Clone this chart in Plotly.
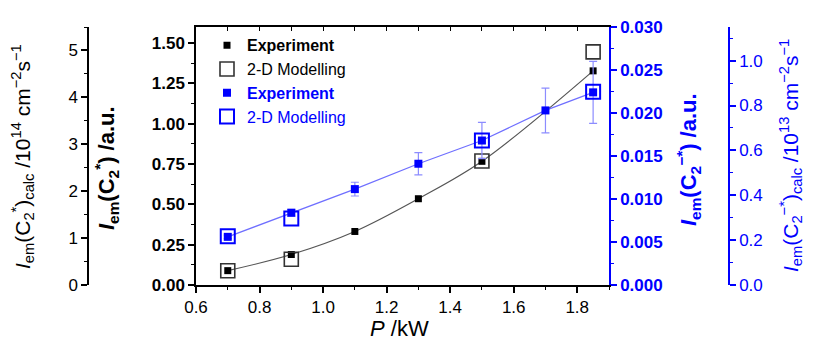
import plotly.graph_objects as go

# ---- data ----
power_exp_c2 = [0.7, 0.9, 1.1, 1.3, 1.5, 1.85]
iem_exp_c2 = [0.089, 0.189, 0.332, 0.535, 0.767, 1.328]

power_mod_c2 = [0.7, 0.9, 1.5, 1.85]
iem_mod_c2 = [0.305, 0.55, 2.645, 4.97]

power_exp_c2m = [0.7, 0.9, 1.1, 1.3, 1.5, 1.7, 1.85]
iem_exp_c2m = [0.0056, 0.0084, 0.01115, 0.0141, 0.0168, 0.0203, 0.0224]
iem_err_c2m = [0.0002, 0.0004, 0.0008, 0.0013, 0.0021, 0.0026, 0.0036]

power_mod_c2m = [0.7, 0.9, 1.5, 1.85]
iem_mod_c2m = [0.217, 0.296, 0.644, 0.861]

FONT = "Liberation Sans"
BLUE = "#0000ff"
W, H = 813, 340

fig = go.Figure()

# lines
fig.add_trace(go.Scatter(x=power_exp_c2, y=iem_exp_c2, mode="lines",
                         line=dict(color="#555555", width=1.2, shape="spline"),
                         xaxis="x", yaxis="y", showlegend=False, hoverinfo="skip"))
fig.add_trace(go.Scatter(x=power_exp_c2m, y=iem_exp_c2m, mode="lines",
                         line=dict(color="#6f6fff", width=1.2),
                         xaxis="x", yaxis="y3", showlegend=False, hoverinfo="skip"))

# modelling (open squares)
fig.add_trace(go.Scatter(x=power_mod_c2, y=iem_mod_c2, mode="markers",
                         name="2-D Modelling", legendrank=2,
                         marker=dict(symbol="square-open", size=14, color="#333333",
                                     line=dict(width=1.6, color="#333333")),
                         xaxis="x", yaxis="y2"))
fig.add_trace(go.Scatter(x=power_mod_c2m, y=iem_mod_c2m, mode="markers",
                         name="<span style='color:#0000ff'>2-D Modelling</span>", legendrank=4,
                         marker=dict(symbol="square-open", size=14, color=BLUE,
                                     line=dict(width=2, color=BLUE)),
                         xaxis="x", yaxis="y4"))

# experiments (filled squares)
fig.add_trace(go.Scatter(x=power_exp_c2, y=iem_exp_c2, mode="markers",
                         name="<b>Experiment</b>", legendrank=1,
                         marker=dict(symbol="square", size=7, color="black"),
                         xaxis="x", yaxis="y"))
fig.add_trace(go.Scatter(x=power_exp_c2m, y=iem_exp_c2m, mode="markers",
                         name="<b><span style='color:#0000ff'>Experiment</span></b>", legendrank=3,
                         marker=dict(symbol="square", size=8, color=BLUE),
                         error_y=dict(type="data", array=iem_err_c2m, color="#8c8cff",
                                      thickness=1.2, width=4),
                         xaxis="x", yaxis="y3"))

# dummy for top axis
fig.add_trace(go.Scatter(x=[], y=[], xaxis="x2", yaxis="y", showlegend=False, hoverinfo="skip"))

x0, x1 = 188 / W, 601 / W

fig.update_layout(
    template="none",
    width=W, height=H,
    margin=dict(l=0, r=0, t=19, b=63, autoexpand=False),
    paper_bgcolor="white", plot_bgcolor="white",
    font=dict(family=FONT, size=17, color="black"),
    showlegend=True,
    legend=dict(x=199 / W, y=0.995, xanchor="left", yanchor="top",
                bgcolor="rgba(0,0,0,0)", borderwidth=0, font=dict(size=16, family=FONT),
                tracegroupgap=0, itemwidth=30),
    xaxis=dict(domain=[x0, x1], range=[0.6, 1.9], dtick=0.2, tick0=0.6,
               tickformat=".1f", showgrid=False, zeroline=False, automargin=False,
               showline=True, linecolor="black", linewidth=1.5,
               ticks="outside", ticklen=6, tickwidth=1.5, tickcolor="black",
               minor=dict(dtick=0.1, ticks="outside", ticklen=3, tickcolor="black", tickwidth=1.2),
               tickfont=dict(size=17, family=FONT), anchor="y"),
    xaxis2=dict(overlaying="x", matches="x", side="top", anchor="y", automargin=False,
                range=[0.6, 1.9], dtick=0.1, tick0=0.6, showticklabels=False,
                showgrid=False, zeroline=False, showline=True, linecolor="black", linewidth=1.5,
                ticks="inside", ticklen=4, tickwidth=1.3, tickcolor="black"),
    yaxis=dict(range=[0, 1.6], dtick=0.25, tick0=0, tickformat=".2f", automargin=False,
               showgrid=False, zeroline=False, showline=True, linecolor="black", linewidth=1.5,
               ticks="outside", ticklen=6, tickwidth=1.5, tickcolor="black",
               minor=dict(dtick=0.125, ticks="outside", ticklen=3, tickcolor="black", tickwidth=1.2),
               tickfont=dict(size=17, family=FONT, weight="bold"), anchor="x", side="left"),
    yaxis2=dict(overlaying="y", anchor="free", position=80 / W, side="left", automargin=False,
                range=[0, 5.5], dtick=1, tick0=0,
                showgrid=False, zeroline=False, showline=True, linecolor="black", linewidth=1.5,
                ticks="outside", ticklen=6, tickwidth=1.5, tickcolor="black",
                minor=dict(dtick=0.5, ticks="outside", ticklen=3, tickcolor="black", tickwidth=1.2),
                tickfont=dict(size=17, family=FONT)),
    yaxis3=dict(overlaying="y", anchor="x", side="right", automargin=False,
                range=[0, 0.030], dtick=0.005, tick0=0, tickformat=".3f",
                showgrid=False, zeroline=False, showline=True, linecolor=BLUE, linewidth=1.5,
                ticks="outside", ticklen=6, tickwidth=1.5, tickcolor=BLUE,
                minor=dict(dtick=0.0025, ticks="outside", ticklen=3, tickcolor=BLUE, tickwidth=1.2),
                tickfont=dict(size=17, family=FONT, weight="bold", color=BLUE)),
    yaxis4=dict(overlaying="y", anchor="free", position=721 / W, side="right", automargin=False,
                range=[0, 1.15], dtick=0.2, tick0=0, tickformat=".1f",
                showgrid=False, zeroline=False, showline=True, linecolor=BLUE, linewidth=1.5,
                ticks="outside", ticklen=6, tickwidth=1.5, tickcolor=BLUE,
                minor=dict(dtick=0.1, ticks="outside", ticklen=3, tickcolor=BLUE, tickwidth=1.2),
                tickfont=dict(size=17, family=FONT, color=BLUE)),
)

def py(p):
    return 1 - (p - 19) / (277 - 19)

annots = [
    dict(text="<i>I</i><sub>em</sub>(C<sub>2</sub><sup>*</sup>)<sub>calc</sub> /10<sup>14</sup> cm<sup>−2</sup>s<sup>−1</sup>",
         x=14 / W, y=py(149), textangle=-90, font=dict(size=21, family=FONT, color="black")),
    dict(text="<b><i>I</i><sub>em</sub>(C<sub>2</sub><sup>*</sup>) /a.u.</b>",
         x=98 / W, y=py(160), textangle=-90, font=dict(size=22, family=FONT, color="black")),
    dict(text="<b><i>I</i><sub>em</sub>(C<sub>2</sub><sup>−*</sup>) /a.u.</b>",
         x=680 / W, y=py(152), textangle=-90, font=dict(size=22, family=FONT, color=BLUE)),
    dict(text="<i>I</i><sub>em</sub>(C<sub>2</sub><sup>−*</sup>)<sub>calc</sub> /10<sup>13</sup> cm<sup>−2</sup>s<sup>−1</sup>",
         x=782 / W, y=py(148), textangle=-90, font=dict(size=21, family=FONT, color=BLUE)),
    dict(text="<i>P</i> /kW", x=391 / W, y=py(320), font=dict(size=22, family=FONT, color="black")),
]
for a in annots:
    fig.add_annotation(xref="paper", yref="paper", showarrow=False,
                       xanchor="center", yanchor="middle", **a)

fig.write_html("out.html")
